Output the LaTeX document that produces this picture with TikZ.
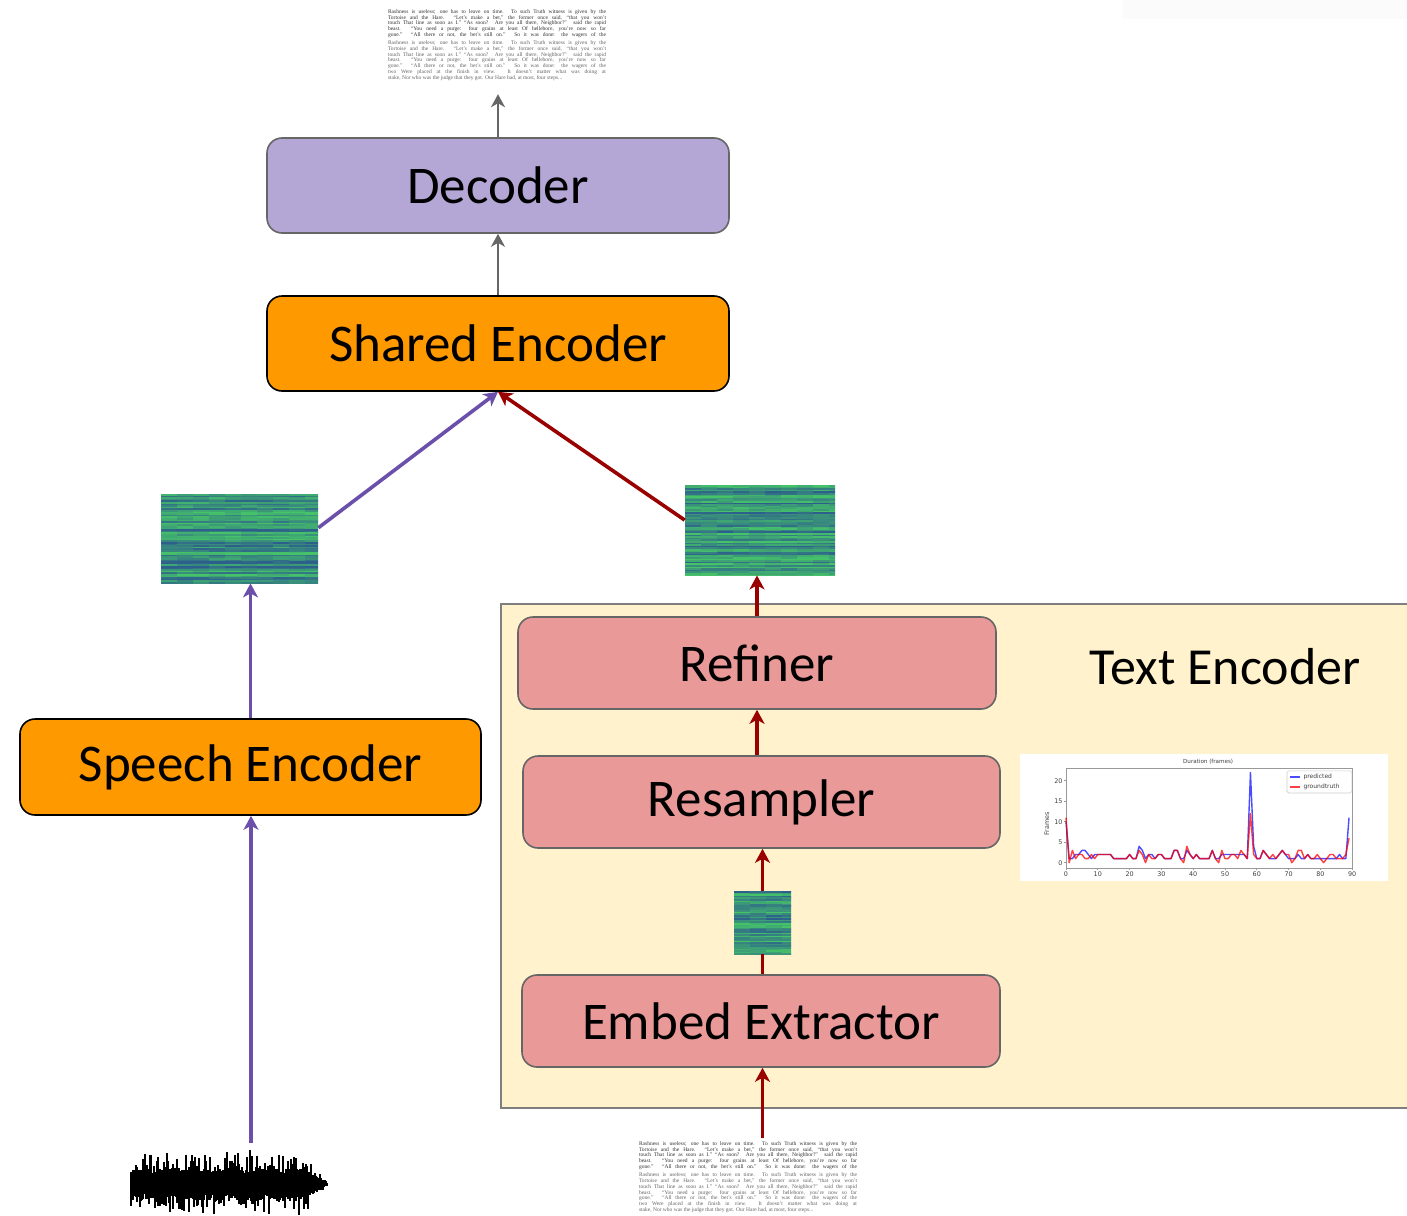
\documentclass[tikz,border=0pt]{standalone}
\usepackage{fontspec}
\setmainfont{Carlito}
\newfontfamily\pagefont{Liberation Serif}
\newfontfamily\plotfont{DejaVu Sans}
\usetikzlibrary{arrows.meta,calc}

\definecolor{decfill}{RGB}{180,167,214}
\definecolor{encfill}{RGB}{255,153,0}
\definecolor{subfill}{RGB}{234,153,153}
\definecolor{tefill}{RGB}{255,242,204}
\definecolor{boxline}{RGB}{102,102,102}
\definecolor{teline}{RGB}{127,127,127}
\definecolor{speechline}{RGB}{106,80,170}
\definecolor{textline}{RGB}{153,0,0}
\definecolor{vblue}{RGB}{45,95,140}
\definecolor{vteal}{RGB}{33,145,140}
\definecolor{vgreen}{RGB}{70,195,105}
\definecolor{inkdark}{RGB}{50,50,50}
\definecolor{inklight}{RGB}{100,100,100}

% sample page text
\newlength\pagew
\setlength\pagew{109pt}
\newcommand\jline[2]{\makebox[\pagew][s]{\color{#1}#2}}
\newcommand\fable{%
\begin{tabular}{@{}l@{}}
\jline{inkdark}{Rashness is useless; one has to leave on time. To such Truth witness is given by the}\\
\jline{inkdark}{Tortoise and the Hare. “Let’s make a bet,” the former once said, “that you won’t}\\
\jline{inkdark}{touch That line as soon as I.” “As soon? Are you all there, Neighbor?” said the rapid}\\
\jline{inkdark}{beast. “You need a purge: four grains at least Of hellebore, you’re now so far}\\
\jline{inkdark}{gone.” “All there or not, the bet’s still on.” So it was done: the wagers of the}\\[1.5pt]
\jline{inklight}{Rashness is useless; one has to leave on time. To such Truth witness is given by the}\\
\jline{inklight}{Tortoise and the Hare. “Let’s make a bet,” the former once said, “that you won’t}\\
\jline{inklight}{touch That line as soon as I.” “As soon? Are you all there, Neighbor?” said the rapid}\\
\jline{inklight}{beast. “You need a purge: four grains at least Of hellebore, you’re now so far}\\
\jline{inklight}{gone.” “All there or not, the bet’s still on.” So it was done: the wagers of the}\\
\jline{inklight}{two Were placed at the finish in view. It doesn’t matter what was doing at}\\
\makebox[\pagew][l]{\color{inklight}stake, Nor who was the judge that they got. Our Hare had, at most, four steps...}
\end{tabular}}

\tikzset{
    block/.style={rectangle, rounded corners=7.5pt, line width=0.8pt, minimum height=47.5pt,
        font=\fontsize{26.5}{30}\selectfont},
    decblock/.style={block, fill=decfill, draw=boxline},
    encblock/.style={block, fill=encfill, draw=black},
    subblock/.style={block, fill=subfill, draw=boxline, minimum height=46pt},
    tebox/.style={rectangle, fill=tefill, draw=teline, line width=0.8pt},
    pagetext/.style={inner xsep=0, inner ysep=1.5pt, font=\pagefont\fontsize{2.75}{2.85}\selectfont},
    spec/.style={rectangle, inner sep=0, fill=vteal, path picture={
        \path (path picture bounding box.north west) coordinate (snw);
        \foreach \k in {0,...,56} {
            \pgfmathsetmacro\m{100*rnd^0.8}
            \foreach \j in {0,...,9} {
                \pgfmathtruncatemacro\mm{max(0,min(100,\m+36*rnd-18))}
                \fill[vgreen!\mm!vblue] ([shift={(\j*8pt,-\k*0.8pt)}]snw) rectangle ++(8.2pt,-0.85pt);
            }
        }
    }},
    grayarrow/.style={draw=boxline, line width=1pt, -{Stealth[length=6.5pt, width=7pt, inset=2pt]}},
    speecharrow/.style={draw=speechline, line width=1.8pt, -{Stealth[length=7pt, width=7.5pt, inset=2pt]}},
    textarrow/.style={draw=textline, line width=1.8pt, -{Stealth[length=7pt, width=7.5pt, inset=2pt]}},
    axisline/.style={draw=gray!80, line width=0.4pt},
    ticklabel/.style={inner sep=0.6pt, font=\plotfont\fontsize{3.2}{3.5}\selectfont, text=black!75},
    predline/.style={draw=blue, draw opacity=0.7, line width=0.7pt, line join=round},
    gtline/.style={draw=red, draw opacity=0.75, line width=0.7pt, line join=round},
}

\pgfmathsetseed{11}

\begin{document}
\begin{tikzpicture}[x=0.5pt, y=-0.5pt]
        \useasboundingbox (0,0) rectangle (1407,1215);
        \fill[gray!3] (1123,0) rectangle (1407,19);

        % text encoder
        \node[tebox, anchor=north west, minimum width=460pt, minimum height=252pt] (te) at (500,603) {};
        \node[font=\fontsize{26}{30}\selectfont] (telabel) at (1225,667) {Text Encoder};

        % bloky
        \node[decblock, minimum width=231pt] (dec) at (498,185.5) {Decoder};
        \node[encblock, minimum width=231pt] (shared) at (498,343.5) {Shared Encoder};
        \node[encblock, minimum width=230.5pt, minimum height=48pt] (speech) at (250.5,767) {Speech Encoder};
        \node[subblock, minimum width=239pt] (refiner) at (757,663) {Refiner};
        \node[subblock, minimum width=238.5pt] (resampler) at (761.5,802) {Resampler};
        \node[subblock, minimum width=239pt] (embed) at (761,1021) {Embed Extractor};

        % spektrogramy
        \node[spec, minimum width=78.5pt, minimum height=44.5pt] (spl) at (239.5,538.5) {};
        \node[spec, minimum width=75pt, minimum height=45pt] (spr) at (760,530) {};
        \node[spec, minimum width=28.5pt, minimum height=31.5pt] (sps) at (762.5,922.5) {};

        % texty
        \node[pagetext, anchor=north] (toptext) at (497,6) {\fable};
        \node[pagetext, anchor=north] (bottext) at (748,1138) {\fable};

        % waveform
        \coordinate (wavein) at (251,1143);
        \foreach \i in {0,...,196} {
            \pgfmathsetmacro\xx{131+\i}
            \pgfmathsetmacro\env{ifthenelse(\xx>305, (330-\xx)/25, 1)}
            \pgfmathsetmacro\up{\env*(9+6*rnd+20*rnd^4)}
            \pgfmathsetmacro\dn{\env*(9+6*rnd+18*rnd^4)}
            \draw[line width=0.6pt] (\xx,1184-\up) -- (\xx,1184+\dn);
        }

        % duration plot
        \node[anchor=north west, fill=white, inner sep=0, minimum width=184pt, minimum height=63.5pt] (dur) at (1020,754) {};
        \begin{scope}[shift={(1066,862.7)}, x=1.59pt, y=2.05pt]
            \draw[axisline] (0,-1.3) rectangle (90,23.1);
            \foreach \t in {0,10,...,90}
                \draw[axisline] (\t,-1.3) -- ++(0,-1pt) node[ticklabel, below] (xt\t) {\t};
            \foreach \t in {0,5,...,20}
                \draw[axisline] (0,\t) -- ++(-1pt,0) node[ticklabel, left] (yt\t) {\t};
            \node[ticklabel, rotate=90] (ylab) at (-6,9.5) {Frames};
            \node[ticklabel, font=\plotfont\fontsize{2.8}{3}\selectfont] (ptitle) at (44.7,24.6) {Duration (frames)};
            \draw[predline] (0,10) \foreach \v [count=\i] in {1,1,2,2,3,3,2,1,2,
                2,2,2,2,2,1,1,1,1,1, 2,1,1,4,3,1,2,2,1,2, 2,1,1,1,3,3,1,1,3,2,
                1,2,1,1,1,1,3,1,1,2, 2,2,2,2,2,2,2,1,22,4, 1,1,3,2,1,1,1,2,3,2,
                1,1,1,2,1,1,2,1,1,1, 1,1,1,1,1,1,2,1,1,11} { -- (\i,\v) };
            \draw[gtline] (0,11) \foreach \v [count=\i] in {0,3,1,2,2,1,1,2,1,
                2,2,2,2,2,1,1,1,1,1, 2,1,1,3,2,0,2,1,1,2, 2,1,1,1,3,3,1,0,4,2,
                1,2,1,1,1,1,3,1,0,3, 1,1,2,2,1,3,2,1,12,2, 1,1,3,2,1,2,1,2,3,2,
                2,0,1,3,3,1,2,1,1,2, 1,0,1,2,2,1,1,1,2,6} { -- (\i,\v) };
            % legenda
            \draw[draw=gray!40, fill=white, fill opacity=0.8, rounded corners=0.8pt, line width=0.3pt] (69.5,17.0) rectangle (89.9,22.4);
            \draw[predline] (70.4,20.9) -- (73.6,20.9);
            \draw[gtline] (70.4,18.5) -- (73.6,18.5);
            \node[ticklabel, anchor=west, font=\plotfont\fontsize{3}{3.2}\selectfont] (legpred) at (74.2,20.9) {predicted};
            \node[ticklabel, anchor=west, font=\plotfont\fontsize{3}{3.2}\selectfont] (leggt) at (74.2,18.5) {groundtruth};
        \end{scope}

        % sipky
        \draw[grayarrow] (shared.north) -- (dec.south);
        \draw[grayarrow, shorten >=5pt] (dec.north) -- (dec.north |- toptext.south);
        \draw[speecharrow] ($(spl.north east)!0.38!(spl.south east)$) -- (shared.south);
        \draw[textarrow] ($(spr.north west)!0.39!(spr.south west)$) -- (shared.south);
        \draw[speecharrow] (speech.north) -- (speech.north |- spl.south);
        \draw[speecharrow] (wavein) -- (wavein |- speech.south);
        \draw[textarrow] (refiner.north) -- (refiner.north |- spr.south);
        \draw[textarrow] (refiner.south |- resampler.north) -- (refiner.south);
        \draw[textarrow] (sps.north) -- (sps.north |- resampler.south);
        \draw[draw=textline, line width=1.8pt] (sps.south |- embed.north) -- (sps.south);
        \draw[textarrow] (sps.south |- bottext.north) -- (sps.south |- embed.south);

\end{tikzpicture}
\end{document}
